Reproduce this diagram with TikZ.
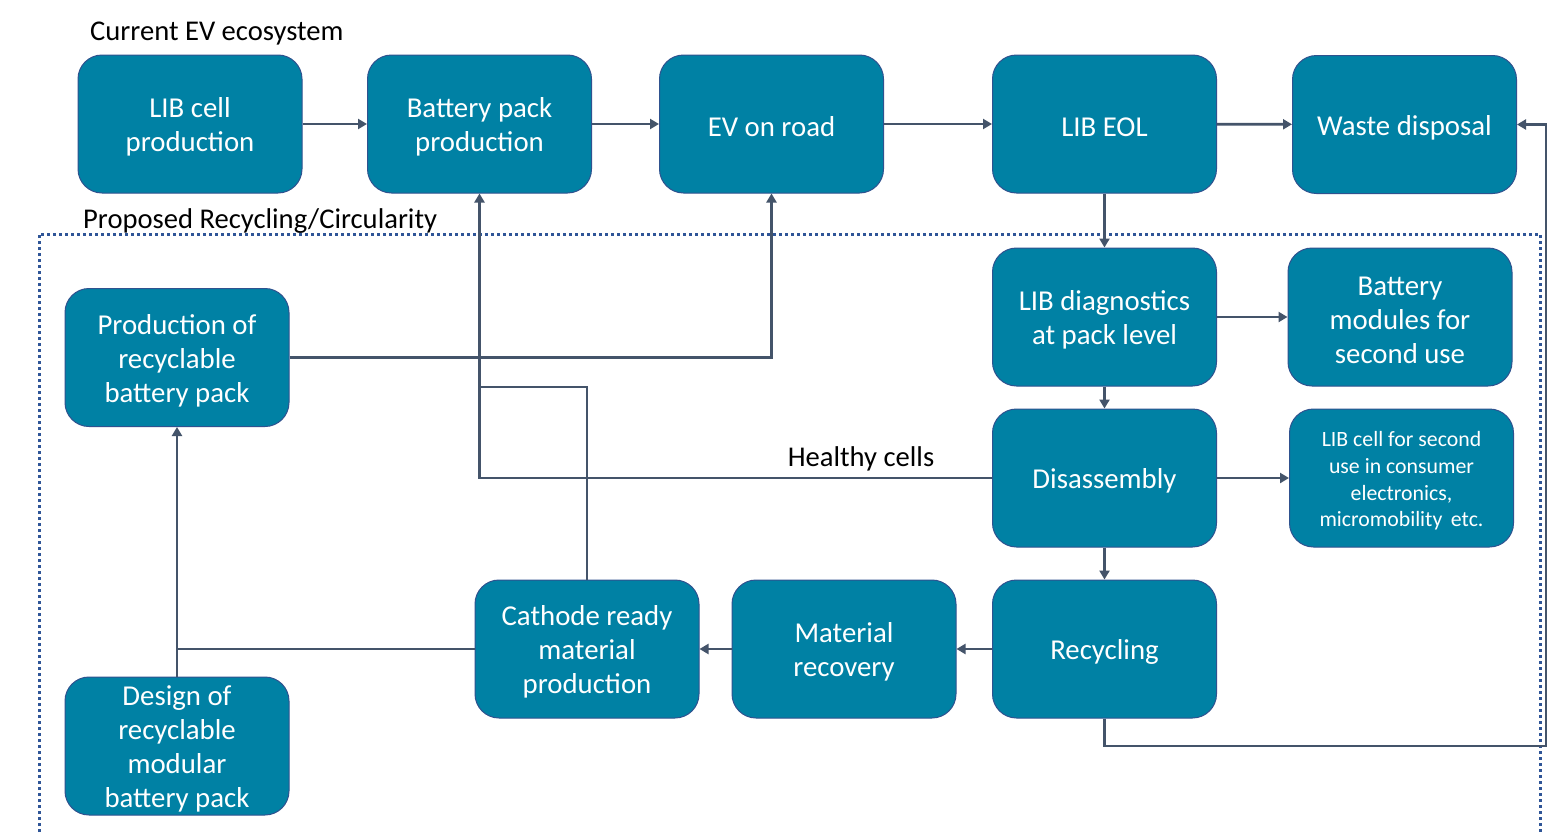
\documentclass[tikz,border=0pt]{standalone}
\usepackage{fontspec}
\setmainfont{Carlito}
\usetikzlibrary{arrows.meta}
\definecolor{boxfill}{RGB}{0,129,164}
\definecolor{boxline}{RGB}{47,82,143}
\definecolor{conncol}{RGB}{68,84,106}
\definecolor{dotcol}{RGB}{47,85,151}
\newcommand\tup{\rule{0pt}{26pt}}
\newcommand\tups{\rule{0pt}{21pt}}
\tikzset{
  stagebox/.style={rounded corners=24pt, fill=boxfill, draw=boxline, line width=1pt,
    minimum width=224pt, minimum height=138pt, text=white, align=center, inner sep=0pt,
    font=\fontsize{28.8}{34}\selectfont},
  smallbox/.style={stagebox, font=\fontsize{21.8}{26.6}\selectfont},
  plainline/.style={draw=conncol, line width=2.8pt},
  conn/.style={plainline, -{Triangle[length=9pt,width=10pt]}},
  lbl/.style={font=\fontsize{28.6}{34}\selectfont, inner sep=0pt, text=black},
  border/.style={draw=dotcol, line width=3pt, dash pattern=on 3pt off 3pt}
}
\begin{document}
\begin{tikzpicture}[x=1pt,y=-1pt]
\useasboundingbox (0,0) rectangle (1548,835);
\fill[white] (0,0) rectangle (1548,835);
% dotted region
\draw[border] (39,850) -- (39,234) -- (1540,234) -- (1540,850);
% labels
\node[lbl, anchor=west] (lcur) at (90,34) {Current EV ecosystem};
\node[lbl, anchor=west] (lprop) at (83,221) {Proposed Recycling/Circularity};
% boxes
\node[stagebox] (cell) at (190,124) {\tup LIB cell\\production};
\node[stagebox] (pack) at (479.5,124) {\tup Battery pack\\production};
\node[stagebox] (ev) at (771.5,124) {\tup EV on road};
\node[stagebox] (eol) at (1104.5,124) {\tup LIB EOL};
\node[stagebox] (waste) at (1404.5,124.5) {\tup Waste disposal};
\node[stagebox] (diag) at (1104.5,317) {\tup LIB diagnostics\\at pack level};
\node[stagebox] (mods) at (1400,317) {\tup Battery\\modules for\\second use};
\node[stagebox] (dis) at (1104.5,478) {\tup Disassembly};
\node[smallbox] (cellsec) at (1401.5,478) {\tups LIB cell for second\\use in consumer\\electronics,\\micromobility\, etc.};
\node[stagebox] (rec) at (1104.5,649) {\tup Recycling};
\node[stagebox] (mat) at (844,649) {\tup Material\\recovery};
\node[stagebox] (cath) at (587,649) {\tup Cathode ready\\material\\production};
\node[stagebox] (prod) at (177,357.5) {\tup Production of\\recyclable\\battery pack};
\node[stagebox] (design) at (177,746) {\tup Design of\\recyclable\\modular\\battery pack};
\node[lbl] (healthy) at (861,459) {Healthy cells};
% junction coordinates
\coordinate (j1) at (480,387);
\coordinate (j2) at (177,649);
\coordinate (r1) at (1546,746);
% connectors
\draw[conn] (cell) -- (pack);
\draw[conn] (pack) -- (ev);
\draw[conn] (ev) -- (eol);
\draw[conn] (eol) -- (waste);
\draw[conn] (eol.south) -- (diag.north);
\draw[conn] (diag) -- (mods);
\draw[conn] (diag.south) -- (dis.north);
\draw[conn] (dis) -- (cellsec);
\draw[conn] (dis.south) -- (rec.north);
\draw[conn] (rec) -- (mat);
\draw[conn] (mat) -- (cath);
\draw[conn] (prod.east) -| (ev.south);
\draw[conn] (dis.west) -| (pack.south);
\draw[plainline] (cath.north) |- (j1);
\draw[conn] (design.north) -- (prod.south);
\draw[plainline] (cath.west) -- (j2);
\draw[conn] (rec.south) |- (r1) |- (waste.east);
\end{tikzpicture}
\end{document}
